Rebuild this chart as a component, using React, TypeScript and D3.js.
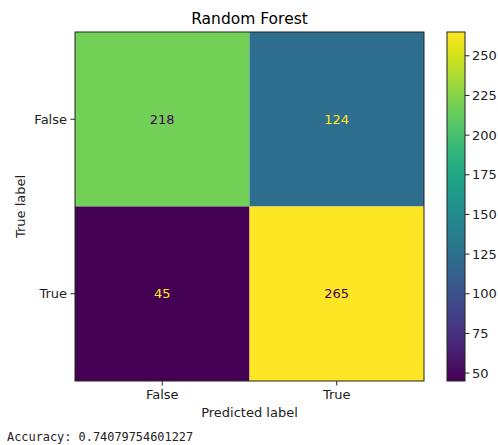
import React from "react";
import * as d3 from "d3";

const predictedLabels = ["False", "True"];
const trueLabels = ["False", "True"];
// rows = true label, cols = predicted label
const matrix = [
  [218, 124],
  [45, 265],
];
const colorbarTicks = [50, 75, 100, 125, 150, 175, 200, 225, 250];
const title = "Random Forest";
const accuracyText = "Accuracy: 0.74079754601227";

export default function App() {
  const W = 498, H = 445;
  const left = 75, right = 424, top = 32, bottom = 381;
  const flat = matrix.flat();
  const vmin = d3.min(flat) as number;
  const vmax = d3.max(flat) as number;
  const x = d3.scaleBand<string>().domain(predictedLabels).range([left, right]);
  const y = d3.scaleBand<string>().domain(trueLabels).range([top, bottom]);
  const color = d3.scaleSequential(d3.interpolateViridis).domain([vmin, vmax]);
  const cbX = 447, cbW = 18;
  const cbY = d3.scaleLinear().domain([vmin, vmax]).range([bottom, top]);
  const thresh = (vmin + vmax) / 2;
  const font = "DejaVu Sans, sans-serif";
  const stops = d3.range(0, 1.0001, 0.05);

  const cells: any[] = [];
  trueLabels.forEach((tl, i) =>
    predictedLabels.forEach((pl, j) => {
      const v = matrix[i][j];
      cells.push({ tl, pl, v });
    })
  );

  return (
    <svg width={W} height={H} style={{ position: "absolute", left: 0, top: 0, background: "#fff" }} fontFamily={font}>
      <defs>
        <linearGradient id="cb" x1="0" y1="1" x2="0" y2="0">
          {stops.map((t) => (
            <stop key={t} offset={`${t * 100}%`} stopColor={d3.interpolateViridis(t)} />
          ))}
        </linearGradient>
      </defs>
      <text x={(left + right) / 2} y={24} textAnchor="middle" fontSize={15.5} fill="#000">{title}</text>
      {cells.map((c) => (
        <rect key={c.tl + c.pl} x={x(c.pl)} y={y(c.tl)} width={x.bandwidth()} height={y.bandwidth()} fill={color(c.v)} />
      ))}
      {cells.map((c) => (
        <text key={"t" + c.tl + c.pl} x={(x(c.pl) as number) + x.bandwidth() / 2} y={(y(c.tl) as number) + y.bandwidth() / 2}
          dy="0.35em" textAnchor="middle" fontSize={13}
          fill={c.v < thresh ? d3.interpolateViridis(1) : d3.interpolateViridis(0)}>{c.v}</text>
      ))}
      <rect x={left} y={top} width={right - left} height={bottom - top} fill="none" stroke="#222" strokeWidth={1} />
      {predictedLabels.map((p) => {
        const cx = (x(p) as number) + x.bandwidth() / 2;
        return (
          <g key={"x" + p}>
            <line x1={cx} x2={cx} y1={bottom} y2={bottom + 4.5} stroke="#222" />
            <text x={cx} y={bottom + 18} textAnchor="middle" fontSize={13} fill="#222">{p}</text>
          </g>
        );
      })}
      {trueLabels.map((p) => {
        const cy = (y(p) as number) + y.bandwidth() / 2;
        return (
          <g key={"y" + p}>
            <line x1={left} x2={left - 4.5} y1={cy} y2={cy} stroke="#222" />
            <text x={left - 8} y={cy} dy="0.35em" textAnchor="end" fontSize={13} fill="#222">{p}</text>
          </g>
        );
      })}
      <text x={(left + right) / 2} y={417} textAnchor="middle" fontSize={13} fill="#222">Predicted label</text>
      <text transform={`translate(25,${(top + bottom) / 2}) rotate(-90)`} textAnchor="middle" fontSize={13} fill="#222">True label</text>
      <rect x={cbX} y={top} width={cbW} height={bottom - top} fill="url(#cb)" stroke="#222" strokeWidth={1} />
      {colorbarTicks.map((t) => (
        <g key={"c" + t}>
          <line x1={cbX + cbW} x2={cbX + cbW + 4.5} y1={cbY(t)} y2={cbY(t)} stroke="#222" />
          <text x={cbX + cbW + 7} y={cbY(t)} dy="0.35em" fontSize={13} fill="#222">{t}</text>
        </g>
      ))}
      <text x={7} y={441} fontSize={11.9} fontFamily="DejaVu Sans Mono, monospace" fill="#222">{accuracyText}</text>
    </svg>
  );
}
